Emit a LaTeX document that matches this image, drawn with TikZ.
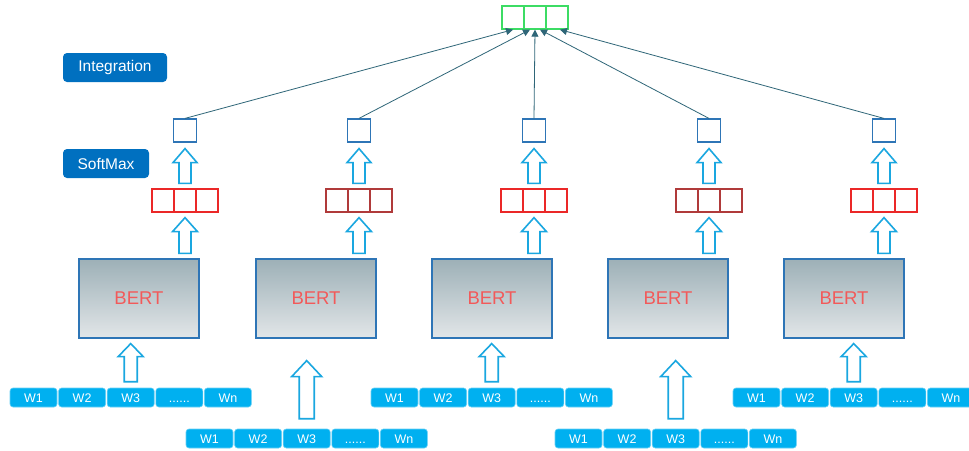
\documentclass[tikz,border=0pt]{standalone}
\usepackage{fontspec}
\setmainfont{Liberation Sans}
\usepackage{xcolor}
\usepackage{tikz}
\usetikzlibrary{calc}
\usetikzlibrary{arrows.meta,shapes}
\usetikzlibrary{positioning}

\definecolor{wordblue}{RGB}{0,176,240}
\definecolor{tagblue}{RGB}{0,112,192}
\definecolor{boxblue}{RGB}{46,117,182}
\definecolor{redA}{RGB}{235,40,40}
\definecolor{redB}{RGB}{176,58,58}
\definecolor{linkteal}{RGB}{47,102,120}
\definecolor{bertred}{RGB}{242,90,90}
\definecolor{outgreen}{RGB}{60,220,100}
\definecolor{arrowcyan}{RGB}{26,167,224}
\definecolor{berttop}{RGB}{157,176,183}
\definecolor{bertbot}{RGB}{226,230,232}

\tikzset{
  tag/.style={rectangle,rounded corners=4pt,fill=tagblue,text=white,
    minimum height=29pt,inner sep=0pt,font=\fontsize{15.5}{18}\selectfont},
  cell/.style={rectangle,draw,line width=1.3pt,minimum width=22pt,minimum height=23pt,inner sep=0pt},
  probbox/.style={rectangle,draw=boxblue,line width=1.2pt,minimum width=23pt,minimum height=23pt,inner sep=0pt},
  bertbox/.style={rectangle,draw=boxblue,line width=1.2pt,top color=berttop,
    bottom color=bertbot,minimum width=120pt,minimum height=79pt,inner sep=0pt,
    text=bertred,font=\fontsize{18.5}{22}\selectfont},
  word/.style={rectangle,rounded corners=3pt,fill=wordblue,draw=wordblue!60!white,line width=0.6pt,
    text=white,minimum width=47pt,minimum height=19pt,inner sep=0pt,text height=9pt,text depth=0pt,
    font=\fontsize{12.5}{14}\selectfont},
  holarr/.style={draw=arrowcyan,fill=white,line width=1.6pt,line join=miter},
  link/.style={draw=linkteal,line width=0.8pt,-{Triangle[length=7pt,width=7pt]}}
}

\newcommand{\wdots}{......}
% hollow up arrow: start, end, head half width, shaft half width, head length
\newcommand{\blockup}[5]{%
  \draw[holarr] let \p1=#1, \p2=#2 in
    (\x1-#4pt,\y1) -- (\x1-#4pt,\y2-#5pt) -- (\x1-#3pt,\y2-#5pt) -- (\x1,\y2)
    -- (\x1+#3pt,\y2-#5pt) -- (\x1+#4pt,\y2-#5pt) -- (\x1+#4pt,\y1) -- cycle;}

\begin{document}
\begin{tikzpicture}[x=1pt,y=-1pt]
  \useasboundingbox (0,0) rectangle (969,450);
  \fill[white] (0,0) rectangle (969,450);

  % output vector
  \node[cell,draw=outgreen] (g2) at (535,17.5) {};
  \node[cell,draw=outgreen] (g1) at (513,17.5) {};
  \node[cell,draw=outgreen] (g3) at (557,17.5) {};

  % labels
  \node[tag,minimum width=104pt] (integ) at (115,67.5) {Integration};
  \node[tag,minimum width=86pt] (smax) at (106,163.5) {SoftMax};

  % columns
  \foreach \i/\cx/\bx/\rc in {1/185/139/redA,2/359/316/redB,3/534/492/redA,4/709/668/redB,5/884/844/redA}{
    \node[probbox] (sq\i) at (\cx,130.5) {};
    \node[cell,draw=\rc] (r\i-1) at (\cx-22,200.5) {};
    \node[cell,draw=\rc] (r\i-3) at (\cx+22,200.5) {};
    \node[cell,draw=\rc] (r\i-2) at (\cx,200.5) {};
    \node[bertbox] (bert\i) at (\bx,298.5) {BERT};
  }

  % input words
  \foreach \i/\lx/\ly in {1/10/397.5,2/186/438.5,3/371/397.5,4/555/438.5,5/733/397.5}{
    \foreach \t [count=\k] in {W1,W2,W3,\wdots,Wn}
      \node[word] (w\i-\k) at (\lx+23.5+48.6*\k-48.6,\ly) {\t};
  }

  % block arrows
  \foreach \i in {1,...,5}{
    \blockup{($(r\i-2.north)+(0,-5)$)}{($(sq\i.south)+(0,6)$)}{12}{6}{14}
    \blockup{($(r\i-2|-bert\i.north)+(0,-5)$)}{($(r\i-2.south)+(0,5)$)}{12.5}{6}{14}
  }
  \foreach \i in {1,3,5}{
    \blockup{($(w\i-3.north)+(0,-6)$)}{($(w\i-3|-bert\i.south)+(0,5)$)}{12.5}{6.5}{13}
  }
  \foreach \i in {2,4}{
    \blockup{($(w\i-3.north)+(0,-10)$)}{($(w\i-3|-bert\i.south)+(0,22)$)}{15}{7.5}{16}
  }

  % integration links
  \coordinate (in1) at (g1.south);
  \coordinate (in2) at ($(g2.south)+(-5,0)$);
  \coordinate (in3) at (g2.south);
  \coordinate (in4) at ($(g2.south)+(5,0)$);
  \coordinate (in5) at ($(g3.south)+(3,0)$);
  \foreach \i in {1,...,5}
    \draw[link] (sq\i.north) -- (in\i);
\end{tikzpicture}
\end{document}
